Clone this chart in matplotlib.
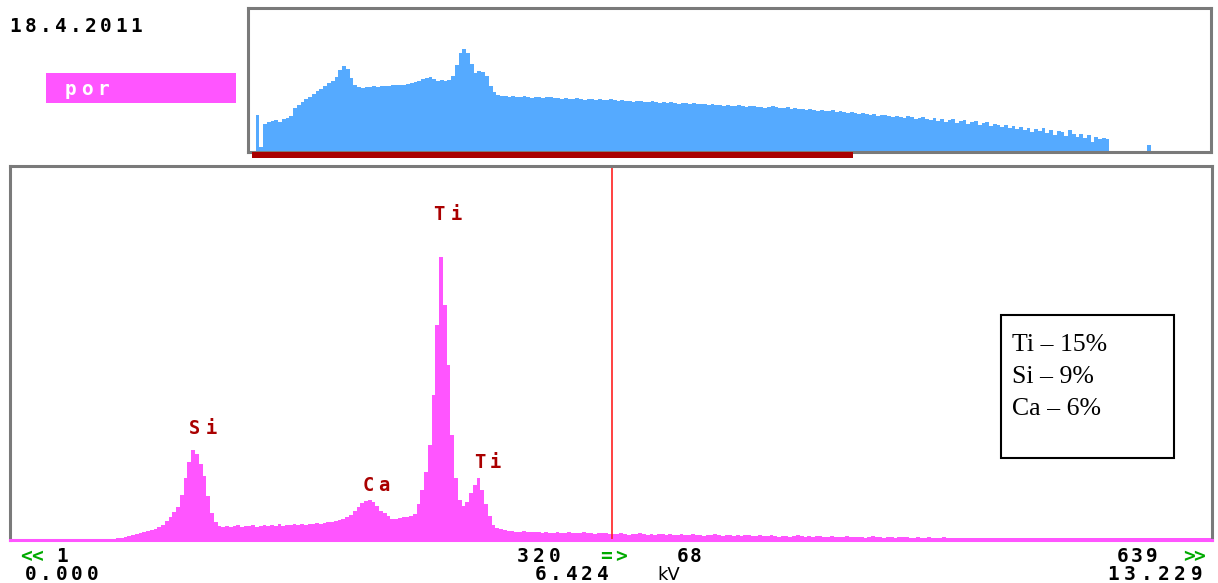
import matplotlib
matplotlib.use("Agg")
import matplotlib.pyplot as plt
from matplotlib.patches import Rectangle
import numpy as np

W, H = 1218, 583

# ---------------- data ----------------
# main spectrum: counts in 2-channel bins, channels 0..640 (display units)
main_counts = (
    [0.5] * 25
    + [0.8, 1, 1.5, 2, 2.5, 3.5, 4, 5, 6, 7,
       8, 9, 10.5, 11, 13, 15, 19, 23, 28, 33,
       45, 62, 78, 90, 86, 76, 64, 44, 27, 18, 14]
    + [13, 14, 13, 14, 15, 13, 14, 14, 15, 13, 14, 15, 14, 15, 14, 16, 14, 15, 15]
    + [16, 15, 16, 15, 16, 16, 17, 16, 17, 18, 18, 19, 20, 21, 23]
    + [25, 29, 33, 37, 39, 40, 38, 34, 29, 27, 24, 21, 21, 22, 23, 23, 24, 26]
    + [36, 50, 68, 95, 145, 215, 283, 235, 175, 105, 62, 40, 34, 38, 47, 55,
       62, 50, 36, 24, 15, 12, 11, 10, 9, 9, 8, 8, 9, 8, 8, 8]
    + [8, 7, 8, 7, 7, 8, 7, 7, 8, 7, 7, 7, 8, 7, 7, 6, 7, 7, 7, 6]
    + [6, 6, 7, 6, 5, 6, 6, 7, 6, 5, 6, 5, 6, 6, 5, 6, 5, 5, 6, 5,
       5, 6, 5, 5, 4, 5, 5, 6, 5, 4, 5, 5, 4, 5, 4, 5, 5, 4, 4, 5]
    + [4, 4, 5, 4, 3, 4, 4, 3, 4, 5, 4, 3, 4, 3, 4, 4, 3, 3, 4, 3,
       3, 3, 4, 3, 3, 3, 3, 2, 3, 4, 3, 3, 2, 3, 3, 2, 3, 3, 3, 2,
       2, 3, 2, 2, 3, 2, 2, 2, 3, 2]
    + [2, 2, 2.5, 2, 2, 2, 2.5, 2, 2, 2] * 7
)
main_bin_width = 2

# overview spectrum (log display units), 4-channel bins over 1024 channels
overview_counts = (
    [0, 0, 37, 5, 28]
    + [30, 31, 32, 30, 33, 34, 36, 44, 47, 50, 53, 55, 58, 61, 63, 66, 69, 71, 75, 82]
    + [86, 83, 74, 67, 65, 64, 65, 65, 66, 65, 66, 66, 66, 67, 67, 67, 67, 68, 69, 70,
       71, 73, 74, 75, 73, 71, 72, 71, 72, 76, 87, 99, 103, 99, 88, 79, 81, 80, 76, 66,
       60, 57, 56]
    + [56, 55, 56, 55, 55, 56, 55, 54, 55, 55, 54, 55, 55]
    + [54, 54, 53, 54, 53, 53, 54, 53, 52, 53, 53, 52, 53, 52, 52, 53, 52, 51, 52, 51]
    + [51, 50, 51, 51, 50, 50, 51, 50, 49, 50, 49, 50, 49, 48, 49, 49, 48, 49, 48, 48]
    + [48, 47, 48, 47, 47, 46, 47, 46, 46, 47, 46, 45, 46, 46, 45, 45, 44, 45, 46, 45]
    + [44, 44, 45, 43, 44, 43, 43, 42, 43, 42, 41, 42, 41, 41, 42, 40, 41, 40, 39, 40]
    + [39, 38, 39, 38, 37, 38, 36, 37, 37, 36, 35, 36, 35, 34, 36, 35, 33, 34, 35, 33]
    + [32, 34, 31, 33, 30, 32, 33, 29, 31, 32, 28, 30, 31, 27, 29, 30, 26, 28, 27, 25]
    + [27, 24, 26, 23, 25, 22, 24, 20, 23, 21, 24, 19, 22, 17, 21, 20, 16, 22, 18, 15]
    + [18, 14, 17, 10, 15, 13, 14, 13]
    + [0] * 10 + [7] + [0] * 16
)
overview_bin_width = 4

peak_labels = ["Ti", "Si", "Ca", "Ti"]
peak_label_px = [(439, 456, 220), (194.7, 211.7, 434), (368.3, 383.3, 490.7), (480, 495.5, 468)]

composition = ["Ti – 15%", "Si – 9%", "Ca – 6%"]

cursor_channel = 320
cursor_kev = "6.424"
first_channel, last_channel = "1", "639"
first_kev, last_kev = "0.000", "13.229"
cursor_count = "68"
date_text = "18.4.2011"
sample_name = "por"
view_range = (4, 643)  # channels shown in main view (overview red bar)

# ---------------- colours ----------------
PINK = "#ff55ff"
BLUE = "#55aaff"
DARKRED = "#aa0000"
GREEN = "#00aa00"
FRAME = "#7a7a7a"

fig = plt.figure(figsize=(W / 100, H / 100), dpi=100)
fig.patch.set_facecolor("white")


def fx(x):
    return x / W


def fy(y):
    return 1 - y / H


def bitmap_text(centers, y_base, s, color, size=14):
    for c, ch in zip(centers, s):
        fig.text(fx(c), fy(y_base), ch, ha="center", va="baseline",
                 color=color, fontsize=size, fontweight="bold",
                 family="DejaVu Sans Mono")


def run(start, pitch, n):
    return [start + i * pitch for i in range(n)]


# ---------------- main panel ----------------
ax = fig.add_axes([fx(10), fy(540), fx(1202), 374 / H])
edges = np.arange(len(main_counts) + 1) * main_bin_width
ax.stairs(main_counts, edges, fill=True, color=PINK, linewidth=0)
ax.axvline(cursor_channel, color="#ff2020", lw=1.2)
ax.set_xlim(-0.5, 639.5)
ax.set_ylim(0, 374)
ax.set_xticks([])
ax.set_yticks([])
for sp in ax.spines.values():
    sp.set_color(FRAME)
    sp.set_linewidth(2.2)
ax.spines["bottom"].set_color(PINK)

# peak labels
for lab, (c1, c2, yb) in zip(peak_labels, peak_label_px):
    bitmap_text([c1, c2], yb, lab, DARKRED, size=13.5)

# ---------------- overview panel ----------------
ax2 = fig.add_axes([fx(248), fy(152), fx(963), 144 / H])
edges2 = np.arange(len(overview_counts) + 1) * overview_bin_width
ax2.stairs(overview_counts, edges2, fill=True, color=BLUE, linewidth=0)
ax2.set_xlim(0, 1024)
ax2.set_ylim(0, 144)
ax2.set_xticks([])
ax2.set_yticks([])
for sp in ax2.spines.values():
    sp.set_color(FRAME)
    sp.set_linewidth(2.2)

# red bar showing the range of the main view
x0 = 248 + view_range[0] * 963 / 1024
x1 = 248 + view_range[1] * 963 / 1024
fig.patches.append(Rectangle((fx(x0), fy(157.5)), fx(x1 - x0), 5 / H,
                             transform=fig.transFigure, color=DARKRED, lw=0))

# ---------------- header ----------------
bitmap_text(run(15.5, 15.1, 9), 32, date_text, "black", size=14)
fig.patches.append(Rectangle((fx(46), fy(103)), fx(190), 30 / H,
                             transform=fig.transFigure, color=PINK, lw=0))
bitmap_text(run(71, 16, 3), 95, sample_name, "white", size=14)

# ---------------- bottom labels ----------------
bitmap_text([26, 37], 562, "<<", GREEN)
bitmap_text([62.5], 562, first_channel, "black")
bitmap_text(run(30.5, 15.5, 5), 580, first_kev, "black")
bitmap_text(run(522.5, 16, 3), 562, str(cursor_channel), "black")
bitmap_text([606, 621], 562, "=>", GREEN)
bitmap_text([683, 696], 562, cursor_count, "black")
bitmap_text(run(540.5, 15.5, 5), 580, cursor_kev, "black")
fig.text(fx(657), fy(580), "kV", ha="left", va="baseline", fontsize=13,
         family="DejaVu Sans", color="black")
bitmap_text(run(1122.5, 14.5, 3), 562, last_channel, "black")
bitmap_text([1188.5, 1199.5], 562, ">>", GREEN)
bitmap_text(run(1113.5, 16.6, 6), 580, last_kev, "black")

# ---------------- composition box ----------------
fig.patches.append(Rectangle((fx(1001), fy(458)), fx(173), 143 / H,
                             transform=fig.transFigure, fill=False,
                             edgecolor="black", lw=1.5))
for i, line in enumerate(composition):
    fig.text(fx(1012), fy(351 + 32 * i), line, ha="left", va="baseline",
             fontsize=18.5, family="Liberation Serif", color="black")

fig.savefig("out.png", dpi=100)
